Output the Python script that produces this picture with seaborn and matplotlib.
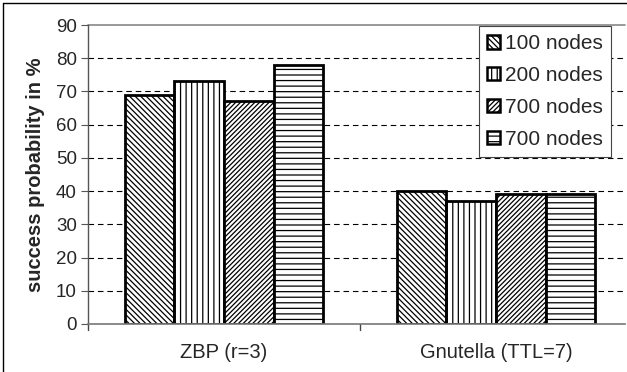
import matplotlib
matplotlib.use("Agg")
import matplotlib.pyplot as plt
import matplotlib.patches as mpatches
import matplotlib.lines as mlines
import seaborn as sns
import pandas as pd

# Success probability per search scheme and network size
categories = ["ZBP (r=3)", "Gnutella (TTL=7)"]
series_labels = ["100 nodes", "200 nodes", "700 nodes", "700 nodes "]
legend_labels = ["100 nodes", "200 nodes", "700 nodes", "700 nodes"]
values = {
    "100 nodes": [69, 40],
    "200 nodes": [73, 37],
    "700 nodes": [67, 39],
    "700 nodes ": [78, 39],
}
hatches = ["\\" * 6, "|||", "/" * 7, "---"]
y_ticks = [0, 10, 20, 30, 40, 50, 60, 70, 80, 90]

rows = []
for s in series_labels:
    for c, v in zip(categories, values[s]):
        rows.append({"scheme": c, "size": s, "prob": v})
df = pd.DataFrame(rows)

sns.set_style("white")
plt.rcParams["font.family"] = ["Liberation Sans", "DejaVu Sans"]
plt.rcParams["hatch.linewidth"] = 0.9
plt.rcParams["hatch.color"] = "black"

fig = plt.figure(figsize=(6.27, 3.72), dpi=100)
ax = fig.add_axes([88 / 627, 1 - 324 / 372, 537 / 627, 299 / 372])

sns.barplot(data=df, x="scheme", y="prob", hue="size", order=categories,
            hue_order=series_labels, palette=["white"] * 4, width=0.73,
            edgecolor="black", linewidth=2.0, saturation=1, ax=ax,
            legend=False, errorbar=None)

# apply hatches per series
for cont, h in zip(ax.containers, hatches):
    for bar in cont:
        bar.set_hatch(h)
        bar.set_edgecolor("black")

ax.set_xlim(-0.5, 1.474)
ax.set_ylim(0, 90)
ax.set_yticks(y_ticks)
ax.set_yticklabels([str(t) for t in y_ticks], fontsize=13.5)
ax.set_xticks([0, 1])
ax.set_xticklabels(categories, fontsize=14.5)
ax.set_xlabel("")
ax.set_ylabel("success probability in %", fontsize=14.5, fontweight="bold", labelpad=8)

# dashed horizontal grid
for t in y_ticks[1:-1]:
    ax.axhline(t, color="black", linestyle=(0, (5, 3.5)), linewidth=0.8, zorder=0)
ax.axhline(90, color="#888888", linewidth=1.2, zorder=0, clip_on=False)

for side in ["top", "right"]:
    ax.spines[side].set_visible(False)
ax.spines["left"].set_color("#555555")
ax.spines["left"].set_linewidth(1.0)
ax.spines["bottom"].set_color("#777777")
ax.spines["bottom"].set_linewidth(1.2)

ax.tick_params(axis="y", direction="out", length=5, width=0.8, color="#555555", pad=3, left=True)
ax.tick_params(axis="x", bottom=False, pad=10)
# group separator ticks
for xb in [-0.5, 0.5]:
    ax.add_line(mlines.Line2D([xb, xb], [0, -0.02], transform=ax.get_xaxis_transform(),
                              color="#444444", linewidth=1.0, clip_on=False))

# legend
handles = [mpatches.Patch(facecolor="white", edgecolor="black", hatch=h, linewidth=1.8)
           for h in hatches]
leg = ax.legend(handles, legend_labels, loc="upper right", bbox_to_anchor=(0.974, 0.997),
                borderaxespad=0, fontsize=15, handlelength=0.6, handleheight=0.6,
                handletextpad=0.25, labelspacing=0.62, borderpad=0.4,
                frameon=True, fancybox=False, framealpha=1, edgecolor="#444444")
leg.get_frame().set_linewidth(0.8)

# figure frame
fig.add_artist(mlines.Line2D([2.5 / 627, 2.5 / 627], [0, 1 - 2.5 / 372], transform=fig.transFigure,
                             color="black", linewidth=1.0))
fig.add_artist(mlines.Line2D([2.5 / 627, 1], [1 - 2.5 / 372, 1 - 2.5 / 372], transform=fig.transFigure,
                             color="black", linewidth=1.0))

fig.savefig("out.png", dpi=100)
